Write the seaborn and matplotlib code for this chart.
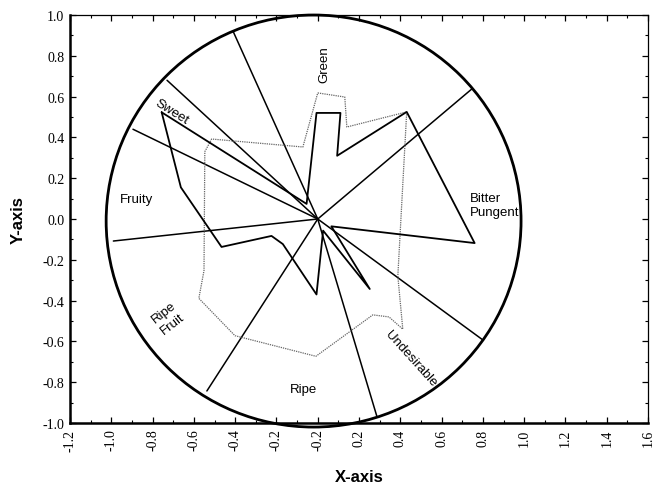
import matplotlib
matplotlib.use("Agg")
import matplotlib.pyplot as plt
from matplotlib.patches import Ellipse
from matplotlib.ticker import MultipleLocator, FixedLocator, FixedFormatter
import numpy as np
import pandas as pd
import seaborn as sns

# Attribute loading vectors (end points of the rays from the origin)
attr_x = [-0.41, -0.73, -0.895, -0.99, -0.537, 0.286, 0.80, 0.746]
attr_y = [0.92, 0.68, 0.44, -0.108, -0.843, -0.966, -0.593, 0.637]

# Profile of sample A (solid outline)
prof_a_x = [-0.756, -0.663, -0.466, -0.224, -0.169, -0.006, 0.026, 0.252,
            0.066, 0.760, 0.431, 0.094, 0.110, -0.006, -0.054]
prof_a_y = [0.523, 0.155, -0.137, -0.083, -0.123, -0.37, -0.057, -0.343,
            -0.036, -0.118, 0.525, 0.310, 0.520, 0.520, 0.074]

# Profile of sample B (dotted outline)
prof_b_x = [0.0, 0.131, 0.141, 0.431, 0.388, 0.412, 0.345, 0.267,
            -0.009, -0.401, -0.576, -0.551, -0.547, -0.514, -0.072]
prof_b_y = [0.618, 0.598, 0.451, 0.525, -0.28, -0.54, -0.48, -0.47,
            -0.673, -0.572, -0.389, -0.253, 0.33, 0.392, 0.353]

# Sensory descriptor labels
desc_text = ["Green", "Sweet", "Fruity", "Bitter\nPungent", "Ripe\nFruit", "Ripe", "Undesirable"]
desc_x = [0.03, -0.706, -0.876, 0.736, -0.725, -0.067, 0.45]
desc_y = [0.76, 0.53, 0.098, 0.069, -0.485, -0.833, -0.68]
desc_rot = [90, -32, 0, 0, 38, 0, -48]
desc_ha = ["center", "center", "center", "left", "center", "center", "center"]

x_ticks = [-1.2, -1.0, -0.8, -0.6, -0.4, -0.2, 0.0, 0.2, 0.4, 0.6, 0.8, 1.0, 1.2, 1.4, 1.6]
x_tick_labels = ["-1.2", "-1.0", "-0.8", "-0.6", "-0.4", "-0.2", "-0.2", "0.2", "0.4",
                 "0.6", "0.8", "1.0", "1.2", "1.4", "1.6"]
y_ticks = [-1.0, -0.8, -0.6, -0.4, -0.2, 0.0, 0.2, 0.4, 0.6, 0.8, 1.0]
y_tick_labels = ["-1.0", "-0.8", "-0.6", "-0.4", "-0.2", "0.0", "0.2", "0.4", "0.6", "0.8", "1.0"]

sns.set_theme(style="white")
plt.rcParams["font.family"] = ["Liberation Sans", "DejaVu Sans"]
plt.rcParams["text.color"] = "black"
plt.rcParams["axes.labelcolor"] = "black"
plt.rcParams["xtick.color"] = "black"
plt.rcParams["ytick.color"] = "black"

fig = plt.figure(figsize=(6.52, 4.85), dpi=100)
ax = fig.add_axes([0.1074, 0.1258, 0.8865, 0.8412])

# Rays from origin to each attribute
ray_rows = []
for i, (x, y) in enumerate(zip(attr_x, attr_y)):
    ray_rows.append({"unit": i, "order": 0, "x": 0.0, "y": 0.0})
    ray_rows.append({"unit": i, "order": 1, "x": x, "y": y})
rays = pd.DataFrame(ray_rows)
sns.lineplot(data=rays, x="x", y="y", units="unit", estimator=None, sort=False,
             color="black", linewidth=1.1, ax=ax, legend=False)

# Closed sample profiles
def closed(xs, ys):
    return pd.DataFrame({"x": list(xs) + [xs[0]], "y": list(ys) + [ys[0]]})

sns.lineplot(data=closed(prof_b_x, prof_b_y), x="x", y="y", sort=False,
             estimator=None, color="#666666", linewidth=0.9, linestyle=(0, (1, 0.8)),
             ax=ax, legend=False)
sns.lineplot(data=closed(prof_a_x, prof_a_y), x="x", y="y", sort=False,
             estimator=None, color="black", linewidth=1.3, ax=ax, legend=False)

# Unit correlation circle
circle = Ellipse((-0.02, -0.01), 2.01, 2.02, fill=False, edgecolor="black",
                 linewidth=2.0, clip_on=False, zorder=3)
ax.add_patch(circle)

for t, x, y, r, ha in zip(desc_text, desc_x, desc_y, desc_rot, desc_ha):
    ax.text(x, y, t, rotation=r, ha=ha, va="center", fontsize=9.5,
            rotation_mode="anchor", linespacing=1.25, color="black")

ax.set_xlim(-1.2, 1.6)
ax.set_ylim(-1.0, 1.0)
ax.xaxis.set_major_locator(FixedLocator(x_ticks))
ax.xaxis.set_major_formatter(FixedFormatter(x_tick_labels))
ax.yaxis.set_major_locator(FixedLocator(y_ticks))
ax.yaxis.set_major_formatter(FixedFormatter(y_tick_labels))
ax.xaxis.set_minor_locator(MultipleLocator(0.1))
ax.yaxis.set_minor_locator(MultipleLocator(0.1))

ax.tick_params(which="both", direction="in", top=True, right=True,
               bottom=True, left=True, color="black", labelcolor="black")
ax.tick_params(which="major", length=4, width=0.9)
ax.tick_params(which="minor", length=2, width=0.8)
ax.tick_params(axis="x", which="major", pad=4)
ax.tick_params(axis="y", which="major", pad=4)

for lab in ax.get_xticklabels():
    lab.set_rotation(90)
    lab.set_family(["Liberation Serif", "DejaVu Serif"])
    lab.set_fontsize(10)
for lab in ax.get_yticklabels():
    lab.set_family(["Liberation Serif", "DejaVu Serif"])
    lab.set_fontsize(10)

for side in ["left", "bottom"]:
    ax.spines[side].set_linewidth(1.8)
for side in ["top", "right"]:
    ax.spines[side].set_linewidth(0.9)
for s in ax.spines.values():
    s.set_color("black")
    s.set_visible(True)

ax.set_xlabel("X-axis", fontsize=12, fontweight="bold", color="black")
ax.set_ylabel("Y-axis", fontsize=12, fontweight="bold", color="black")
ax.xaxis.set_label_coords(0.5, -0.132)
ax.xaxis.label.set_verticalalignment("center")
ax.yaxis.set_label_coords(-0.09, 0.5)
ax.yaxis.label.set_verticalalignment("center")

fig.savefig("out.png", dpi=100, facecolor="white")
